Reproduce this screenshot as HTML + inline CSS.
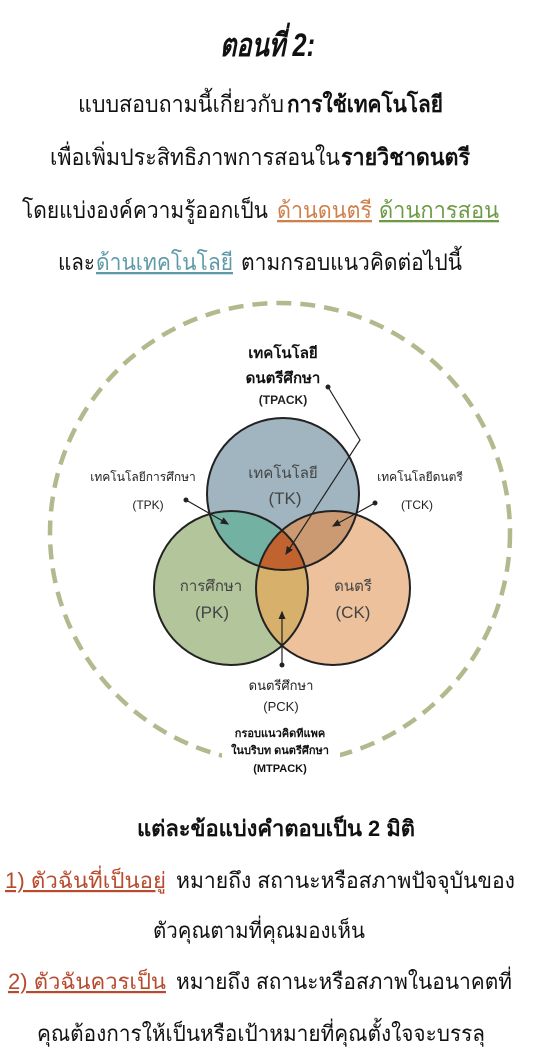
<!DOCTYPE html>
<html><head><meta charset="utf-8"><style>
html,body{margin:0;padding:0;background:#fff;}
svg{display:block;font-family:"Liberation Sans","Noto Sans CJK SC",sans-serif;}
</style></head><body>
<svg width="560" height="1062" viewBox="0 0 560 1062">
<defs>
<clipPath id="cT"><circle cx="283" cy="494" r="76"/></clipPath>
<clipPath id="cP"><circle cx="231" cy="588" r="77"/></clipPath>
<clipPath id="cC"><circle cx="333" cy="588" r="77"/></clipPath>
<marker id="ar" markerWidth="8" markerHeight="8" refX="6" refY="4" orient="auto"><path d="M0,1 L7,4 L0,7 Z" fill="#222"/></marker>
</defs>
<g fill="#111" lengthAdjust="spacingAndGlyphs">
<text x="220" y="56" font-size="32" font-weight="bold" font-style="italic" textLength="95" lengthAdjust="spacingAndGlyphs">ตอนที่ 2:</text>
<text x="78" y="112" font-size="23" textLength="206" lengthAdjust="spacingAndGlyphs">แบบสอบถามนี้เกี่ยวกับ</text>
<text x="287" y="112" font-size="23" font-weight="bold" textLength="156" lengthAdjust="spacingAndGlyphs">การใช้เทคโนโลยี</text>
<text x="50" y="165" font-size="23" textLength="290" lengthAdjust="spacingAndGlyphs">เพื่อเพิ่มประสิทธิภาพการสอนใน</text>
<text x="341" y="165" font-size="23" font-weight="bold" textLength="129" lengthAdjust="spacingAndGlyphs">รายวิชาดนตรี</text>
<text x="22" y="218" font-size="23" textLength="246" lengthAdjust="spacingAndGlyphs">โดยแบ่งองค์ความรู้ออกเป็น</text>
<text x="277" y="218" font-size="23" fill="#d0804a" text-decoration="underline" textLength="95" lengthAdjust="spacingAndGlyphs">ด้านดนตรี</text>
<text x="379" y="218" font-size="23" fill="#6e9a45" text-decoration="underline" textLength="120" lengthAdjust="spacingAndGlyphs">ด้านการสอน</text>
<text x="58" y="270" font-size="23" textLength="37" lengthAdjust="spacingAndGlyphs">และ</text>
<text x="96" y="270" font-size="23" fill="#5c9aa8" text-decoration="underline" textLength="137" lengthAdjust="spacingAndGlyphs">ด้านเทคโนโลยี</text>
<text x="241" y="270" font-size="23" textLength="221" lengthAdjust="spacingAndGlyphs">ตามกรอบแนวคิดต่อไปนี้</text>
</g>
<circle cx="280" cy="533" r="230" fill="none" stroke="#b3b98c" stroke-width="4.5" stroke-dasharray="15 9"/>
<rect x="222" y="722" width="118" height="60" fill="#fff"/>
<circle cx="283" cy="494" r="76" fill="#a1b5c0"/>
<circle cx="231" cy="588" r="77" fill="#b2c59b"/>
<circle cx="333" cy="588" r="77" fill="#edc19c"/>
<g clip-path="url(#cT)"><circle cx="231" cy="588" r="77" fill="#73b1a2"/><circle cx="333" cy="588" r="77" fill="#cb9a72"/></g>
<g clip-path="url(#cP)"><circle cx="333" cy="588" r="77" fill="#d7b16b"/></g>
<g clip-path="url(#cT)"><g clip-path="url(#cP)"><circle cx="333" cy="588" r="77" fill="#c0632f"/></g></g>
<g fill="none" stroke="#222" stroke-width="2">
<circle cx="283" cy="494" r="76"/><circle cx="231" cy="588" r="77"/><circle cx="333" cy="588" r="77"/>
</g>
<g stroke="#222" stroke-width="1.2" fill="none">
<polyline points="328,387 360,440 286,554" marker-end="url(#ar)"/>
<line x1="186" y1="500" x2="228" y2="524" marker-end="url(#ar)"/>
<line x1="375" y1="503" x2="333" y2="526" marker-end="url(#ar)"/>
<line x1="282" y1="665" x2="282" y2="612" marker-end="url(#ar)"/>
</g>
<g fill="#222"><circle cx="328" cy="387" r="2.5"/><circle cx="186" cy="500" r="2.5"/><circle cx="375" cy="503" r="2.5"/><circle cx="282" cy="665" r="2.5"/></g>
<g text-anchor="middle" fill="#222">
<text x="283" y="358" font-size="15" font-weight="bold" fill="#111">เทคโนโลยี</text>
<text x="283" y="383" font-size="15" font-weight="bold" fill="#111">ดนตรีศึกษา</text>
<text x="283" y="404" font-size="12" font-weight="bold">(TPACK)</text>
<text x="283" y="478" font-size="15" fill="#444">เทคโนโลยี</text>
<text x="285" y="504" font-size="17" fill="#444">(TK)</text>
<text x="211" y="591" font-size="15" fill="#444">การศึกษา</text>
<text x="212" y="618" font-size="17" fill="#444">(PK)</text>
<text x="353" y="591" font-size="15" fill="#444">ดนตรี</text>
<text x="353" y="618" font-size="17" fill="#444">(CK)</text>
<text x="143" y="481" font-size="12">เทคโนโลยีการศึกษา</text>
<text x="148" y="509" font-size="12">(TPK)</text>
<text x="420" y="481" font-size="12">เทคโนโลยีดนตรี</text>
<text x="417" y="509" font-size="12">(TCK)</text>
<text x="281" y="690" font-size="13">ดนตรีศึกษา</text>
<text x="281" y="711" font-size="13">(PCK)</text>
<text x="280" y="737" font-size="11" font-weight="bold" fill="#111">กรอบแนวคิดทีแพค</text>
<text x="280" y="754" font-size="11" font-weight="bold" fill="#111">ในบริบท ดนตรีศึกษา</text>
<text x="280" y="772" font-size="11" font-weight="bold" fill="#111">(MTPACK)</text>
</g>
<g fill="#111">
<text x="137" y="836" font-size="22" font-weight="bold" textLength="278" lengthAdjust="spacingAndGlyphs">แต่ละข้อแบ่งคำตอบเป็น 2 มิติ</text>
<text x="5" y="888" font-size="22" fill="#b84a2e" text-decoration="underline" textLength="161" lengthAdjust="spacingAndGlyphs">1) ตัวฉันที่เป็นอยู่</text>
<text x="176" y="888" font-size="22" textLength="339" lengthAdjust="spacingAndGlyphs">หมายถึง สถานะหรือสภาพปัจจุบันของ</text>
<text x="153" y="938" font-size="22" textLength="212" lengthAdjust="spacingAndGlyphs">ตัวคุณตามที่คุณมองเห็น</text>
<text x="8" y="989" font-size="22" fill="#b84a2e" text-decoration="underline" textLength="158" lengthAdjust="spacingAndGlyphs">2) ตัวฉันควรเป็น</text>
<text x="176" y="989" font-size="22" textLength="336" lengthAdjust="spacingAndGlyphs">หมายถึง สถานะหรือสภาพในอนาคตที่</text>
<text x="37" y="1041" font-size="22" textLength="448" lengthAdjust="spacingAndGlyphs">คุณต้องการให้เป็นหรือเป้าหมายที่คุณตั้งใจจะบรรลุ</text>
</g>
</svg>
</body></html>
